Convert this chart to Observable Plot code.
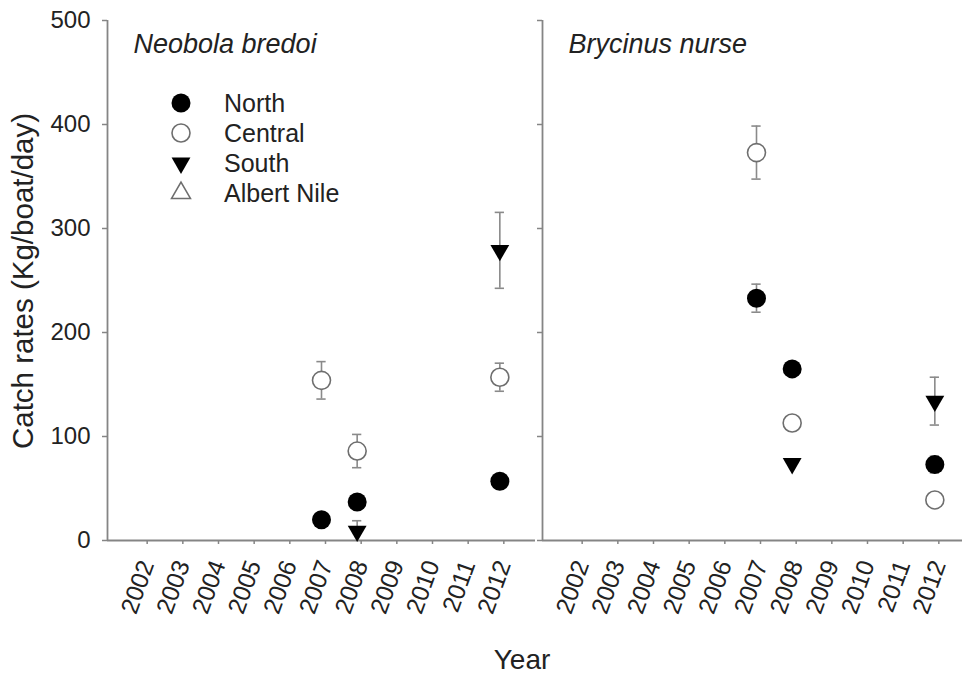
<!DOCTYPE html>
<html>
<head>
<meta charset="utf-8">
<script src="https://cdn.jsdelivr.net/npm/d3@7"></script>
<script src="https://cdn.jsdelivr.net/npm/@observablehq/plot@0.6"></script>
<style>
html, body { margin: 0; padding: 0; background: #fff; overflow: hidden; }
#wrap { position: relative; width: 962px; height: 677px; font-family: "Liberation Sans", Arial, sans-serif; color: #222; }
#chart { position: absolute; left: 0; top: 0; }
.ylab { position: absolute; left: 23px; top: 281px; transform: translate(-50%, -50%) rotate(-90deg); font-size: 29.5px; white-space: nowrap; }
.xlab { position: absolute; left: 522px; top: 660px; transform: translate(-50%, -50%); font-size: 28px; white-space: nowrap; }
#legend { position: absolute; left: 0; top: 0; width: 400px; height: 240px; }
</style>
</head>
<body>
<div id="wrap">
  <div id="chart"></div>
  <div class="ylab">Catch rates (Kg/boat/day)</div>
  <div class="xlab">Year</div>
</div>
<script>
// ---- data ----
const species = ["Neobola bredoi", "Brycinus nurse"];
const regions = ["North", "Central", "South", "Albert Nile"];
const years = [2002, 2003, 2004, 2005, 2006, 2007, 2008, 2009, 2010, 2011, 2012];
const yTicks = [0, 100, 200, 300, 400, 500];

const obsSpecies = [
  "Neobola bredoi", "Neobola bredoi", "Neobola bredoi",
  "Neobola bredoi", "Neobola bredoi", "Neobola bredoi",
  "Neobola bredoi", "Neobola bredoi",
  "Brycinus nurse", "Brycinus nurse", "Brycinus nurse",
  "Brycinus nurse", "Brycinus nurse", "Brycinus nurse",
  "Brycinus nurse", "Brycinus nurse"
];
const obsRegion = [
  "North", "North", "North",
  "Central", "Central", "Central",
  "South", "South",
  "North", "North", "North",
  "Central", "Central", "Central",
  "South", "South"
];
const obsYear = [
  2007, 2008, 2012,
  2007, 2008, 2012,
  2008, 2012,
  2007, 2008, 2012,
  2007, 2008, 2012,
  2008, 2012
];
const obsMean = [
  20, 37, 57,
  154, 86, 157,
  9, 279,
  233, 165, 73,
  373, 113, 39,
  74, 134
];
const obsErr = [
  0, 0, 0,
  18, 16, 13.5,
  10, 36.5,
  13.5, 0, 8,
  25.5, 0, 0,
  0, 23
];

const obs = obsYear.map((year, i) => ({
  species: obsSpecies[i], region: obsRegion[i], year, mean: obsMean[i], err: obsErr[i]
}));
const withErr = obs.filter(d => d.err > 0);
const byRegion = r => obs.filter(d => d.region === r);

const axisGray = "#858585";
const errGray = "#8a8a8a";
const capHalf = 0.13;

const chart = Plot.plot({
  width: 962,
  height: 677,
  marginLeft: 107,
  marginRight: 0,
  marginTop: 20,
  marginBottom: 137,
  style: { fontFamily: "'Liberation Sans', Arial, sans-serif", background: "transparent", color: "#222" },
  fx: { domain: species, range: [107, 970.5], paddingInner: 0.0172, paddingOuter: 0, axis: null },
  x: { domain: [2001, 2013] },
  y: { domain: [0, 500] },
  marks: [
    Plot.ruleY([0], { stroke: axisGray, strokeWidth: 1.8 }),
    Plot.ruleX([2001], { stroke: axisGray, strokeWidth: 1.8 }),
    Plot.axisY({ ticks: yTicks, facetAnchor: "left", anchor: "left", tickSize: 5, tickPadding: 12, fontSize: 24, label: null, stroke: axisGray, fill: "#222", strokeWidth: 1.5 }),
    Plot.axisY({ ticks: yTicks, facetAnchor: "right", anchor: "left", tickSize: 5, tickFormat: () => "", label: null, stroke: axisGray, strokeWidth: 1.5 }),
    Plot.axisX({ ticks: years, tickFormat: d => String(d), tickRotate: -70, tickSize: 4, tickPadding: 17, dx: 4, fontSize: 24.5, label: null, stroke: axisGray, fill: "#222", strokeWidth: 1.5 }),
    Plot.text(species, { fx: d => d, text: d => d, frameAnchor: "top-left", dx: 26, dy: 13, lineAnchor: "top", textAnchor: "start", fontStyle: "italic", fontSize: 27, fill: "#222" }),
    // error bars
    Plot.ruleX(withErr, { fx: "species", x: "year", y1: d => Math.max(0, d.mean - d.err), y2: d => d.mean + d.err, stroke: errGray, strokeWidth: 1.6 }),
    Plot.ruleY(withErr, { fx: "species", y: d => d.mean + d.err, x1: d => d.year - capHalf, x2: d => d.year + capHalf, stroke: errGray, strokeWidth: 1.6 }),
    Plot.ruleY(withErr.filter(d => d.mean - d.err > 0), { fx: "species", y: d => d.mean - d.err, x1: d => d.year - capHalf, x2: d => d.year + capHalf, stroke: errGray, strokeWidth: 1.6 }),
    // points
    Plot.dot(byRegion("North"), { fx: "species", x: "year", y: "mean", r: 9.5, fill: "#000", stroke: "none" }),
    Plot.dot(byRegion("Central"), { fx: "species", x: "year", y: "mean", r: 9, fill: "#fff", stroke: "#6e6e6e", strokeWidth: 1.6 }),
    Plot.dot(byRegion("South"), { fx: "species", x: "year", y: "mean", symbol: "triangle", rotate: 180, r: 7, fill: "#000", stroke: "none" })
  ]
});
document.getElementById("chart").appendChild(chart);

// ---- legend (inside left panel) ----
const legendRows = [
  { label: regions[0], type: d3.symbolCircle, size: Math.PI * 9.5 * 9.5, fill: "#000", stroke: "none", rot: 0 },
  { label: regions[1], type: d3.symbolCircle, size: Math.PI * 9 * 9, fill: "#fff", stroke: "#6e6e6e", rot: 0 },
  { label: regions[2], type: d3.symbolTriangle, size: Math.PI * 7 * 7, fill: "#000", stroke: "none", rot: 180 },
  { label: regions[3], type: d3.symbolTriangle, size: Math.PI * 7 * 7, fill: "#fff", stroke: "#6e6e6e", rot: 0 }
];
const lg = d3.select("#wrap").append("svg").attr("id", "legend").attr("width", 400).attr("height", 240)
  .style("font-family", "'Liberation Sans', Arial, sans-serif");
legendRows.forEach((row, i) => {
  const cy = 103 + i * 30;
  lg.append("path")
    .attr("d", d3.symbol(row.type, row.size)())
    .attr("transform", `translate(181,${cy}) rotate(${row.rot})`)
    .attr("fill", row.fill).attr("stroke", row.stroke).attr("stroke-width", 1.6);
  lg.append("text").attr("x", 224).attr("y", cy).attr("dy", "0.36em")
    .attr("font-size", 25).attr("fill", "#222").text(row.label);
});
</script>
</body>
</html>
